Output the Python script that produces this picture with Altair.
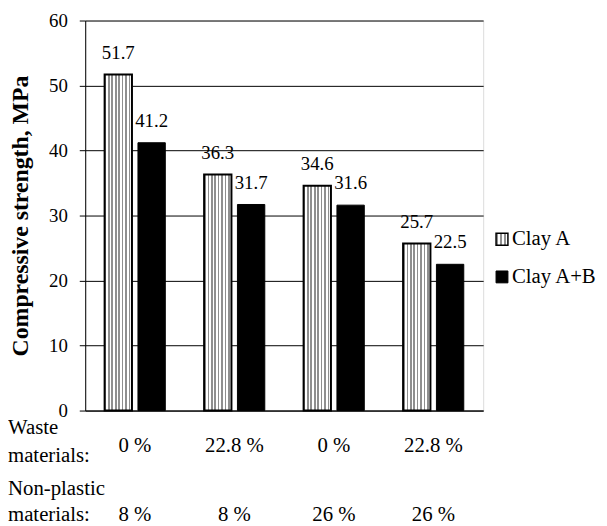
import altair as alt
import pandas as pd

# ---- data ----
groups = ["g1", "g2", "g3", "g4"]
waste = ["0 %", "22.8 %", "0 %", "22.8 %"]
nonplastic = ["8 %", "8 %", "26 %", "26 %"]
series = ["Clay A", "Clay A+B"]
clay_a = [51.7, 36.3, 34.6, 25.7]
clay_ab = [41.2, 31.7, 31.6, 22.5]

FONT = "Liberation Serif"
W, H = 402, 394
FS = 21

df_a = pd.DataFrame({"group": groups, "series": "Clay A", "value": clay_a})
df_b = pd.DataFrame({"group": groups, "series": "Clay A+B", "value": clay_ab})
df_lab = pd.DataFrame({"group": groups, "waste": waste, "nonplastic": nonplastic})

# striped fill as a hard-stop gradient
def stripes(n):
    st = []
    for i in range(n):
        st += [
            {"color": "#8f8f8f", "offset": i / n},
            {"color": "#8f8f8f", "offset": (i + 0.5) / n},
            {"color": "#ffffff", "offset": (i + 0.5) / n},
            {"color": "#ffffff", "offset": (i + 1) / n},
        ]
    return {"gradient": "linear", "x1": 0, "x2": 1, "y1": 0, "y2": 0, "stops": st}

stripe = stripes(8)
stripe_small = stripes(3)

x_enc = alt.X("group:N", sort=groups, title=None,
              scale=alt.Scale(paddingInner=0.39, paddingOuter=0.195),
              axis=alt.Axis(labels=False, ticks=False, domain=True, domainColor="black"))
xo_enc = alt.XOffset("series:N", scale=alt.Scale(domain=series, paddingInner=0.18))
y_enc = alt.Y("value:Q", title="Compressive strength, MPa",
              scale=alt.Scale(domain=[0, 60], nice=False),
              axis=alt.Axis(values=[0, 10, 20, 30, 40, 50, 60], tickSize=6,
                            tickColor="black", domainColor="black",
                            gridColor="black", gridWidth=1, grid=True,
                            labelFont=FONT, labelFontSize=19, labelColor="black",
                            labelPadding=12,
                            titleFont=FONT, titleFontSize=24, titleFontWeight="bold",
                            titleColor="black", titlePadding=16))

bars_a = alt.Chart(df_a).mark_bar(fill=stripe, stroke="black", strokeWidth=2).encode(
    x=x_enc, xOffset=xo_enc, y=y_enc)
bars_b = alt.Chart(df_b).mark_bar(fill="black", stroke="black", strokeWidth=1).encode(
    x=x_enc, xOffset=xo_enc, y=y_enc)

lab_a = alt.Chart(df_a).mark_text(font=FONT, fontSize=19, baseline="bottom", dy=-12, color="black").encode(
    x=x_enc, xOffset=xo_enc, y=y_enc, text=alt.Text("value:Q", format=".1f"))
lab_b = alt.Chart(df_b).mark_text(font=FONT, fontSize=19, baseline="bottom", dy=-12, color="black").encode(
    x=x_enc, xOffset=xo_enc, y=y_enc, text=alt.Text("value:Q", format=".1f"))

row_waste = alt.Chart(df_lab).mark_text(font=FONT, fontSize=FS, baseline="middle", color="black").encode(
    x=x_enc, y=alt.value(H + 36), text="waste:N")
row_np = alt.Chart(df_lab).mark_text(font=FONT, fontSize=FS, baseline="middle", color="black").encode(
    x=x_enc, y=alt.value(H + 106), text="nonplastic:N")

side_w = alt.Chart(pd.DataFrame({"t": ["Waste\nmaterials:"]})).mark_text(
    font=FONT, fontSize=FS, align="left", baseline="middle", lineBreak="\n", lineHeight=28,
    color="black").encode(x=alt.value(-78), y=alt.value(H + 18), text="t:N")
side_n = alt.Chart(pd.DataFrame({"t": ["Non-plastic\nmaterials:"]})).mark_text(
    font=FONT, fontSize=FS, align="left", baseline="middle", lineBreak="\n", lineHeight=27,
    color="black").encode(x=alt.value(-78), y=alt.value(H + 79), text="t:N")

# legend
leg_a_sym = alt.Chart(pd.DataFrame({"s": [series[0]]})).mark_square(
    size=144, fill=stripe_small, stroke="black", strokeWidth=1.5, opacity=1).encode(
    x=alt.value(421), y=alt.value(221))
leg_b_sym = alt.Chart(pd.DataFrame({"s": [series[1]]})).mark_square(
    size=144, fill="black", stroke="black", strokeWidth=1, opacity=1).encode(
    x=alt.value(421), y=alt.value(259))
leg_a_txt = alt.Chart(pd.DataFrame({"s": [series[0]]})).mark_text(
    font=FONT, fontSize=FS, align="left", baseline="middle", color="black").encode(
    x=alt.value(431), y=alt.value(221), text="s:N")
leg_b_txt = alt.Chart(pd.DataFrame({"s": [series[1]]})).mark_text(
    font=FONT, fontSize=FS, align="left", baseline="middle", color="black").encode(
    x=alt.value(431), y=alt.value(259), text="s:N")

chart = alt.layer(bars_a, bars_b, lab_a, lab_b, row_waste, row_np, side_w, side_n,
                  leg_a_sym, leg_b_sym, leg_a_txt, leg_b_txt).properties(
    width=W, height=H,
    autosize=alt.AutoSizeParams(type="none"),
    padding={"left": 78, "top": 10, "right": 117, "bottom": 118},
).configure_view(stroke="black", strokeWidth=1).configure(background="white")

chart.save("out.html", embed_options={"renderer": "svg", "actions": False})
